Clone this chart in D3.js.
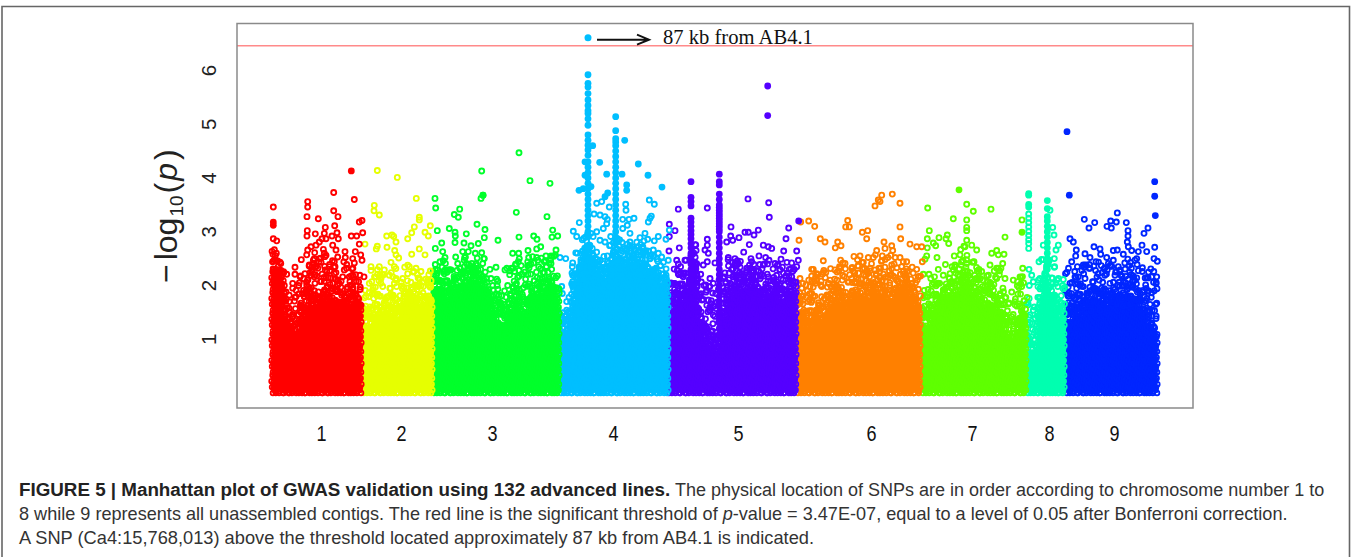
<!DOCTYPE html>
<html><head><meta charset="utf-8">
<script src="https://cdn.jsdelivr.net/npm/d3@7"></script>
<style>html,body{margin:0;padding:0;background:#fff;overflow:hidden}svg{display:block}</style>
</head><body><svg id="c" width="1356" height="557"></svg>
<script>
const chrNames=["1","2","3","4","5","6","7","8","9"];
const chrColors=["#FF0000","#E6FF00","#00FF2B","#00BFFF","#5500FF","#FF8000","#5FFF00","#00FFB0","#0026FF"];
const chrStarts=[35,126,196,323,431,560,685,790,829];
const chrEnds=[124,195,322,431,559,683,789,827,920];
const chrLabelPos=[84,164,255,376,501,634,735,812,877];
const yTicks=[1,2,3,4,5,6];
const threshold=6.46;
const topSnp=[351,6.61];

// height below which markers merge into a solid block, one value per genome bin
const solidTops=[
[2.53,2.4,1.5,1.45,1.3,1.6,1.9,1.85,1.8,2.0,1.95,1.9,1.85,1.85,1.9,1.9],
[1.48,1.54,1.6,1.67,1.79,1.79,1.6,1.9,1.98,1.85,1.79,1.98],
[2.16,2.04,2.04,2.16,2.16,2.22,2.29,2.32,2.22,1.98,1.73,1.48,1.42,1.73,1.98,1.67,1.79,2.04,1.98,2.1,2.22,1.98],
[1.36,1.48,1.98,2.47,2.9,2.72,2.41,2.35,2.47,2.72,2.66,2.66,2.72,2.72,2.66,2.47,2.35,2.32,2.16],
[1.73,1.98,1.98,2.1,2.6,1.54,1.17,1.1,1.05,1.6,2.04,2.16,2.22,2.16,2.22,2.1,1.98,2.04,2.04,1.98,1.98,2.1],
[1.73,1.48,1.48,1.67,1.6,1.79,1.91,1.91,1.79,1.98,2.04,1.98,2.04,2.1,2.04,1.98,1.98,2.16,2.16,1.98,1.85],
[1.48,1.6,1.79,1.91,1.98,2.04,2.1,2.29,2.16,1.98,1.91,1.85,1.79,1.73,1.36,1.17,1.42,1.67],
[0.98,0.86,1.73,2.35,1.98,1.79,1.6],
[1.54,1.73,1.79,1.85,1.91,1.91,1.85,1.85,1.98,1.91,1.98,1.98,1.91,1.79,1.48,1.36]];
// height of the loose ring cloud above the solid block, same bins
const ringTops=[
[2.7,2.5,1.95,1.9,1.9,2.3,2.5,2.6,2.6,2.7,2.65,2.4,2.2,2.4,2.5,2.35],
[2.1,2.3,2.3,2.25,2.15,2.3,2.15,2.3,2.35,2.25,2.1,2.2],
[2.4,2.4,2.4,2.5,2.5,2.55,2.55,2.6,2.5,2.2,2.1,2.0,2.0,2.3,2.45,2.4,2.5,2.5,2.5,2.5,2.6,2.3],
[1.6,1.8,2.3,2.8,3.0,2.95,2.7,2.7,2.8,2.9,2.85,2.8,2.8,2.85,2.85,2.7,2.6,2.55,2.45],
[2.2,2.4,2.45,2.5,2.8,2.2,2.0,2.0,2.0,2.2,2.5,2.55,2.55,2.5,2.55,2.5,2.5,2.45,2.45,2.4,2.45,2.5],
[2.1,2.1,2.3,2.35,2.3,2.3,2.4,2.45,2.4,2.5,2.5,2.45,2.45,2.55,2.6,2.55,2.5,2.5,2.45,2.3,2.25],
[2.0,2.1,2.2,2.3,2.35,2.4,2.5,2.7,2.55,2.35,2.2,2.3,2.35,2.3,1.9,1.7,2.1,2.2],
[1.8,1.6,2.2,2.7,2.5,2.1,2.0],
[2.3,2.35,2.4,2.45,2.4,2.45,2.45,2.4,2.45,2.4,2.5,2.6,2.5,2.3,2.35,2.3]];

// individual open markers [genome position, -log10 p]
const ringsChr1=[[36.3,3.46],[36.3,2.87],[39.7,2.83],[46.7,2.24],[49.7,2.21],[58,2.34],[58,2.21],[47.3,2],[55.7,2.04],[61.7,2],[49,1.88],[52.3,1.7],[55.7,1.95],[64.3,2.48],[68,2.22],[70.7,3.56],[70.7,3.46],[70,3.28],[70.3,3.02],[70,2.92],[81.3,3.24],[78.3,2.96],[96.7,3.73],[96.7,3.39],[101,3.28],[97.7,3.11],[88.3,3.08],[87.3,2.97],[95,2.92],[100,2.98],[101.3,2.87],[117.3,3.6],[122.3,3.18],[125,3.21],[114.3,2.92],[119.7,2.92],[125.7,2.98],[122.3,2.77],[108,2.63],[118.3,2.63],[108.3,2.52],[115.7,2.5],[123.7,2.57],[117.3,2.42],[125,2.47],[85,2.87],[89,2.87],[82.3,2.81],[79,2.75],[74,2.72],[70.7,2.66],[69.7,2.57],[77.3,2.5],[82.3,2.5],[72.3,2.38],[79,2.35],[87.3,2.6],[95.7,2.75],[99,2.66],[100.7,2.53],[92.3,2.35],[97.3,2.44],[112.3,2.16],[115.7,2.19],[127,2.16],[105.7,2.16],[107.3,2.29],[77.3,2.16],[70.7,2.1],[74,2.19],[67.3,1.79],[65.7,1.57],[59,1.79]];
const ringsChr2=[[140.3,4.14],[160.3,4.01],[179.3,3.62],[137.3,3.49],[137,3.39],[142.3,3.31],[177.3,3.09],[174.7,2.98],[170.7,2.87],[193.3,3.11],[188,2.99],[191.3,2.92],[149.7,2.92],[155,2.94],[156.7,2.91],[159,2.81],[128,2.77],[140.3,2.73],[139.3,2.68],[150,2.71],[157.7,2.65],[159,2.57],[161.7,2.51],[182.3,2.68],[174.7,2.58],[188,2.57],[154,2.43],[134,2.35],[142.3,2.35],[147.3,2.29],[157.3,2.35],[172.3,2.35],[179,2.32],[184,2.26],[193.3,2.27],[152.3,2.19],[139,2.16],[144,2.13],[159,2.13],[165.7,2.13],[170.7,2.22],[182.3,2.13],[190.7,2.1],[132.3,2.04],[145.7,1.98],[135.7,1.91],[180.7,1.98],[182.3,3.27],[182.3,3.22]];
const ringsChr3=[[282,4.47],[244.7,4.13],[293,3.95],[313,3.9],[198,3.62],[198.7,3.44],[246,3.68],[244,3.62],[222.7,3.42],[217.3,3.32],[221.3,3.27],[279.3,3.36],[310,3.28],[240,3.14],[212.3,3.06],[200.3,3.02],[218,2.99],[218.3,2.92],[229.3,2.96],[248,3.04],[247.3,2.89],[315.7,3.03],[315,2.9],[320.7,2.92],[282,2.9],[296.7,2.92],[300,2.86],[261,2.84],[204.7,2.79],[218,2.8],[227,2.79],[234,2.74],[241.3,2.78],[198.3,2.69],[205.7,2.63],[208,2.52],[218.7,2.53],[225.7,2.63],[231.3,2.63],[238.3,2.6],[244.7,2.61],[227.7,2.52],[247.3,2.5],[275.7,2.6],[281.7,2.6],[291,2.65],[303.7,2.72],[299.7,2.68],[291.7,2.52],[299.7,2.52],[309,2.55],[314,2.55],[282.3,2.5],[281.3,2.44],[198.3,2.39],[203,2.44],[200.7,2.29],[207.3,2.22],[214,2.29],[220.7,2.41],[227.3,2.35],[230.7,2.32],[239,2.41],[245.7,2.41],[253,2.3],[259,2.34],[268,2.29],[275.7,2.32],[292.3,2.38],[301.7,2.35],[307.3,2.44],[314,2.41],[319,2.66],[318.3,2.57],[260.7,2.08],[270.7,2],[255.7,2],[264.7,1.81],[259,1.82],[264,1.64],[274,1.82],[294,1.79],[285.7,1.79],[287.3,1.57],[269,1.54]];
const ringsChr4=[[342.3,3.17],[336.3,3.01],[339.7,2.91],[359.7,3],[366.3,3.06],[369.7,3.15],[363,2.84],[368,2.81],[373.7,2.91],[393,2.97],[393,2.81],[408,2.97],[403,2.89],[410.7,2.86],[421.3,2.91],[429,2.86],[417.3,2.83],[432.3,3.03],[323,2.52],[328.7,2.5],[335.7,2.42],[335.7,2.19],[335.7,2.07],[335.7,1.98],[324.7,1.98],[325.3,1.85],[329.7,1.7],[356.3,2.55],[363,2.47],[413,2.5],[416.3,2.66],[421.3,2.6],[424.7,2.53],[431.3,2.47],[372.3,3.46],[388.7,3.51],[389,3.4],[412.3,3.59],[417.3,3.51],[414.3,3.29],[411.3,3.18],[413,3.25],[357,3.33],[363,3.31],[368,3.28],[370.3,3.23],[385.7,3.23],[392,3.23],[397,3.25],[390.3,3.12],[385.7,3.06],[364.7,3.56],[359.7,3.53]];
const ringsChr5=[[441.3,3.42],[470.3,3.44],[511,3.61],[531.7,3.54],[532.3,3.27],[432.3,3.14],[438,3.02],[432.3,2.91],[494,3.09],[493.7,2.92],[489.7,2.81],[495.7,2.84],[502,2.89],[508,2.99],[511.3,2.99],[521.3,3.03],[517,2.94],[512.3,2.76],[526.3,2.75],[531.3,2.72],[534.7,2.69],[551.7,3.07],[549,2.87],[546.7,2.64],[559.7,2.64],[506.7,2.62],[470.3,2.86],[470.3,2.75],[468,2.66],[471.3,2.6],[442.3,2.7],[432,2.64],[448,2.47],[439.7,2.47],[466.3,2.38],[470.3,2.44],[478,2.42],[491.3,2.52],[498,2.41],[514.7,2.44],[522,2.55],[532,2.47],[526.3,2.38],[544,2.49],[538,2.41],[561.3,2.47],[559.7,2.35],[463.7,2.21],[473,2.13],[468.7,2.01],[469.7,1.91],[463,1.82],[461.3,1.57],[461.3,1.48],[466.3,1.2],[474.7,1.14],[471.3,1.73],[476.3,2.04],[433,2.04],[441.3,2.22],[446.3,2.16],[496.3,2.16],[509.7,2.32],[519.7,2.16],[531.3,2.16],[543,2.29],[554.7,2.16]];
const ringsChr6=[[563.7,3.18],[571.7,3.2],[577.7,3.1],[562,2.84],[583.3,2.87],[588,2.81],[600.7,2.81],[604,2.74],[598.3,2.7],[610.7,3.21],[608.7,3.09],[612.3,3.09],[625.3,2.99],[630.7,3.02],[629.7,2.87],[638,3.48],[641.3,3.59],[643,3.56],[644.7,3.68],[655.3,3.7],[663,3.53],[663,3.09],[663.7,2.87],[673,2.77],[679.7,2.72],[684.7,2.72],[647,2.81],[654.7,2.74],[655.7,2.65],[639.7,2.65],[648,2.69],[636.3,2.52],[645.3,2.55],[663,2.52],[666.3,2.44],[669.7,2.44],[664.7,2.35],[654.7,2.38],[685.3,2.44],[586.3,2.46],[623,2.55],[631.3,2.52],[574.7,2.3],[579.7,2.22],[586.3,2.24],[598,2.29],[608,2.41],[603,2.32],[614.7,2.32],[621.3,2.36],[633,2.32],[638,2.29],[563,2.13],[564.7,1.95],[573,1.98],[574.7,1.85],[579.7,2.1],[584.7,1.98],[591.3,2.04],[600,2.1],[670.3,2.26],[681.3,2.16],[674.7,2.04],[653,2.19],[643,2.16]];
const ringsChr7=[[690.7,3.44],[729.7,3.51],[736.3,3.38],[754,3.42],[716.3,3.24],[729.7,3.22],[692.3,3.02],[729.7,3.08],[729.7,3.02],[710.3,2.94],[702,2.89],[709,2.87],[711.7,2.78],[690.3,2.87],[696.3,2.79],[690.3,2.7],[698.7,2.74],[729.7,2.84],[734.7,2.75],[728,2.72],[739.7,2.66],[723.7,2.67],[768,2.9],[754.7,2.6],[759.7,2.65],[761.3,2.57],[767,2.58],[717.3,2.55],[723,2.57],[689.7,2.55],[688,2.49],[700,2.52],[737,2.44],[753,2.38],[718,2.38],[729.7,2.41],[765.7,2.41],[761.3,2.32],[742,2.3],[744.7,2.26],[701.3,2.3],[686.3,2.21],[692,2.21],[706.3,2.19],[713,2.22],[785,3.22],[785.7,2.32],[776.3,2.1],[783,2.16],[768,2.13],[751.3,2],[739.7,2.11],[759.7,2.13],[774.7,1.88],[778,1.7],[774.7,1.42],[784.7,1.98],[689.7,1.79]];
const ringsChr8=[[791.7,3.33],[791.7,3.25],[791.7,3.17],[791.7,3.09],[791.7,3.01],[791.7,2.93],[791.7,2.85],[791.7,2.78],[791.7,2.69],[815.7,3.08],[817,2.94],[806.3,2.75],[821.3,2.75],[819,2.66],[817.3,2.5],[817.3,2.34],[802,2.44],[792,2.3],[794.7,2.19],[796.3,2.07],[792.3,2],[803,2.13],[821.3,2.13],[826.3,2.11],[825.7,2],[791.3,1.64],[796.3,1.54],[793,1.45],[813,3.4]];
const ringsChr9=[[880.3,3.35],[847.3,3.23],[857.7,3.17],[852,3.07],[873.7,3.2],[879.3,3.18],[870,3.1],[874.3,3.07],[889.3,3.17],[911,3.07],[907,2.97],[891,3.02],[891,2.92],[833,2.87],[836.3,2.81],[839.3,2.66],[857,2.72],[863,2.68],[905,2.75],[917.7,2.71],[880.3,2.66],[876.3,2.65],[890.3,2.81],[891.3,2.72],[894.7,2.65],[901.3,2.63],[909.7,2.63],[863.7,2.58],[848,2.59],[838.7,2.55],[853,2.52],[859,2.44],[869.7,2.52],[876.3,2.47],[886.3,2.58],[899.7,2.5],[917,2.5],[920.3,2.45],[881.3,2.35],[846.3,2.38],[834.7,2.44],[868,2.33],[865.3,2.24],[883,2.29],[838,2.16],[833,2.04],[848,2.13],[853,2.32],[878,2.19],[919.7,2.16],[914.7,2.16],[919,2.03],[919.7,1.67],[831.3,1.8],[828,1.91]];
const ringSets=[ringsChr1,ringsChr2,ringsChr3,ringsChr4,ringsChr5,ringsChr6,ringsChr7,ringsChr8,ringsChr9];

// overplotted markers that read as filled discs: [chromosome index, position, value]
const filledDots=[[0,114.3,4.13],[0,36.3,3.18],[0,36.3,3.12],[2,246,3.68],[3,355.7,4.6],[3,387.7,4.7],[3,362.7,4.29],[3,401.3,4.26],[3,369.7,4.07],[3,385,4.07],[3,411,4.05],[3,389.7,3.87],[3,389.7,3.77],[3,425,3.83],[3,342,3.77],[3,346.3,3.8],[3,354,3.84],[3,348,4.05],[3,348,4.3],[3,370.7,3.72],[3,368,3.65],
[4,530.7,5.71],[4,530.7,5.16],[4,561.7,3.2],[6,722,3.78],[6,785,2.99],[7,791.7,3.71],[7,791.7,3.68],[7,791.7,3.51],[7,791.7,3.46],[7,810.3,3.58],[8,830,4.86],[8,832.3,3.68],[8,917.7,3.93],[8,917.7,3.66],[8,918.3,3.3]];

// tight vertical peaks: chromosome index, position, values read down the column
const peakChr=[3,3,4,4,7];
const peakPos=[351,378.7,454,482.3,810.3];
const peakVals=[
[5.92,5.76,5.69,5.57,5.45,5.35,5.25,5.2,5.1,4.98,4.8,4.7,4.61,4.52,4.42,4.3,4.2,4.1,4,3.9,3.8,3.7,3.6,3.5,3.4,3.3,3.2,3.1,3,2.9],
[5.14,4.88,4.73,4.67,4.6,4.5,4.4,4.3,4.2,4.1,4,3.9,3.8,3.7,3.6,3.5,3.4,3.3,3.2,3.1,3,2.9,2.8],
[3.93,3.64,3.56,3.48,3.25,3.18,3.1,3.02,2.95,2.87,2.78,2.7,2.6,2.5,2.4,2.3,2.2,2.1,2],
[4.07,3.93,3.87,3.7,3.6,3.5,3.45,3.4,3.35,3.3,3.25,3.2,3.15,3.1,3.05,3,2.9,2.8,2.7,2.6,2.5,2.4,2.3,2.2,2.1,2,1.9,1.8,1.7,1.6,1.5,1.4,1.3,1.2,1.1],
[3.43,3.28,3.2,3.1,3,2.9,2.8,2.7,2.6,2.5,2.4,2.3]];

const captionLines=[
 [["FIGURE 5 | Manhattan plot of GWAS validation using 132 advanced lines.","b"],[" The physical location of SNPs are in order according to chromosome number 1 to",""]],
 [["8 while 9 represents all unassembled contigs. The red line is the significant threshold of ",""],["p","i"],["-value = 3.47E-07, equal to a level of 0.05 after Bonferroni correction.",""]],
 [["A SNP (Ca4:15,768,013) above the threshold located approximately 87 kb from AB4.1 is indicated.",""]]];

const svg=d3.select("#c");
const sans="'Liberation Sans',Arial,sans-serif";
const x=d3.scaleLinear().domain([0,956]).range([237,1193]);
const y=d3.scaleLinear().domain([0,6.46]).range([393,45.7]);

svg.append("path").attr("d","M2,557V6.5H1349.5V557").attr("fill","none").attr("stroke","#666").attr("stroke-width",1.6);

// dither steps so that the hatch under each envelope does not read as a grid
const ditherX=[0,1.3,-0.9,0.6,-1.4,1.0,-0.4];
const ditherY=[0,0.05,-0.04,0.08,-0.07,0.03,-0.02,0.06,-0.05];
const edgeDrop=[0,0.08,0.03,0.11,0.05];

const marks=svg.append("g").attr("fill","none");
d3.range(8,-1,-1).forEach(c=>{
  const g=marks.append("g").attr("stroke",chrColors[c]).attr("class","chr"+chrNames[c]);
  const solid=[],mid=[],loose=[];
  const n=solidTops[c].length, w=(chrEnds[c]-chrStarts[c])/n;
  solidTops[c].forEach((top,b)=>{
    const sub=Math.max(2,Math.round(w/1.9));
    d3.range(sub).forEach(k=>{
      const idx=b*sub+k;
      const p=chrStarts[c]+(b+(k+0.5)/sub)*w;
      const t=top-edgeDrop[idx%5];
      const r=ringTops[c][b];
      d3.range(0,Math.max(0,t-0.2),0.055).forEach((v,j)=>solid.push([p+ditherX[(j+idx)%7],v+(k%2?0.028:0)]));
      d3.range(Math.max(0,t-0.2),t+0.05,0.075).forEach((v,j)=>{ if((idx+j)%4!==0) mid.push([p+ditherX[(j*3+idx)%7],v+ditherY[(j+idx)%9]]);});
      d3.range(t+0.05,r,0.085).forEach((v,j)=>{ if((idx*2+j)%4===0||(idx+j*5)%7===0) loose.push([p+ditherX[(j*2+idx)%7]*1.6,v+ditherY[(j+idx*2)%9]]);});
    });
  });
  g.selectAll("circle.s").data(solid).join("circle").attr("class","s")
    .attr("cx",d=>x(d[0])).attr("cy",d=>y(d[1])).attr("r",2.3).attr("stroke-width",1.8);
  g.selectAll("circle.l").data(mid.concat(loose)).join("circle").attr("class","l")
    .attr("cx",d=>x(d[0])).attr("cy",d=>y(d[1])).attr("r",2.5).attr("stroke-width",1.8);
  g.selectAll("circle.r").data(ringSets[c]).join("circle").attr("class","r")
    .attr("cx",d=>x(d[0])).attr("cy",d=>y(d[1])).attr("r",2.5).attr("stroke-width",1.9);
});
const peaks=[];
peakPos.forEach((p,i)=>peakVals[i].forEach(v=>peaks.push([peakChr[i],p,v])));
marks.append("g").selectAll("circle").data(peaks.concat(filledDots)).join("circle")
  .attr("cx",d=>x(d[1])).attr("cy",d=>y(d[2])).attr("r",3.4).attr("fill",d=>chrColors[d[0]]);

svg.append("line").attr("x1",x(0)).attr("x2",x(956)).attr("y1",y(threshold)).attr("y2",y(threshold))
  .attr("stroke","#FF8A8A").attr("stroke-width",1.4);
svg.append("rect").attr("x",237).attr("y",23.5).attr("width",956).attr("height",384.5)
  .attr("fill","none").attr("stroke","#8a8a8a").attr("stroke-width",1.5);

svg.append("circle").attr("cx",x(topSnp[0])).attr("cy",y(topSnp[1])).attr("r",3.5).attr("fill",chrColors[3]);
const ay=y(topSnp[1])+2;
svg.append("path").attr("d",`M${x(topSnp[0])+9},${ay}H${x(topSnp[0])+61}M${x(topSnp[0])+49},${ay-5}L${x(topSnp[0])+61},${ay}L${x(topSnp[0])+49},${ay+5}`)
  .attr("fill","none").attr("stroke","#111").attr("stroke-width",2);
svg.append("text").attr("x",663).attr("y",44).attr("font-family","'Liberation Serif',serif").attr("font-size",20.6).attr("fill","#111").text("87 kb from AB4.1");

const ya=svg.append("g").attr("transform","translate(222,0)")
  .call(d3.axisLeft(y).tickValues(yTicks).tickSize(0).tickFormat(d3.format("d")));
ya.select(".domain").remove();
ya.selectAll("text").attr("font-family",sans).attr("font-size",20.5).attr("fill","#222")
  .attr("transform",function(d){return `rotate(-90,-11,${y(d)})`;}).attr("x",-11).attr("dy",0)
  .attr("y",d=>y(d)+5).attr("text-anchor","middle");
ya.selectAll(".tick").attr("transform","translate(0,0)");

const yt=svg.append("text").attr("transform","translate(177,283) rotate(-90)").attr("font-family",sans).attr("font-size",32).attr("fill","#222");
yt.append("tspan").text("\u2212");
yt.append("tspan").attr("dx",4).text("log");
yt.append("tspan").attr("font-size",19).attr("dy",6).attr("dx",1).text("10");
yt.append("tspan").attr("dy",-6).attr("dx",2).text("(");
yt.append("tspan").attr("font-style","italic").attr("dx",2).text("p");
yt.append("tspan").attr("dx",3).text(")");

const xa=svg.append("g").attr("transform","translate(0,408)")
  .call(d3.axisBottom(x).tickValues(chrLabelPos).tickSize(0).tickFormat((d,i)=>chrNames[i]));
xa.select(".domain").remove();
xa.selectAll("text").attr("font-family",sans).attr("font-size",21.5).attr("fill","#111").attr("y",33).attr("dy",0)
  .attr("transform","scale(0.84,1)");

const cap=svg.append("g").attr("font-family",sans).attr("fill","#333");
const capSizes=[18,18.1,18.25];
captionLines.forEach((line,i)=>{
  const t=cap.append("text").attr("x",19).attr("y",[496,520,544][i]).attr("font-size",capSizes[i]);
  line.forEach(s=>{
    const ts=t.append("tspan").text(s[0]);
    if(s[1]==="b") ts.attr("font-weight","bold").attr("fill","#222").attr("font-size",18.8);
    if(s[1]==="i") ts.attr("font-style","italic");
  });
});
</script></body></html>
